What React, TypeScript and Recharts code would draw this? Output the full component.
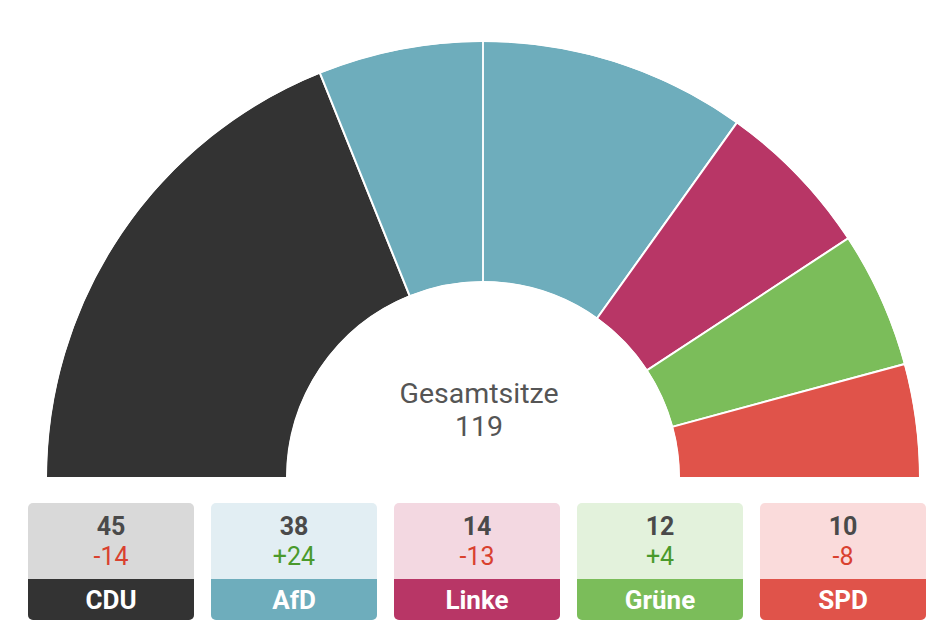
import { Cell, Pie, PieChart } from "recharts";

const parties = ["CDU", "AfD", "Linke", "Grüne", "SPD"];
const seats = [45, 38, 14, 12, 10];
const changes = ["-14", "+24", "-13", "+4", "-8"];
const colors = ["#333333", "#6eadbc", "#b83666", "#7bbd5a", "#e0534a"];
const lightColors = ["#d9d9d9", "#e2eef3", "#f3d8e1", "#e3f2dc", "#fadbdb"];

const total = seats.reduce((a, b) => a + b, 0);
const data = parties.map((name, i) => ({ name, seats: seats[i] }));
const halves = [{ name: "a", seats: total / 2 }, { name: "b", seats: total / 2 }];

const font = "Roboto, 'Noto Sans', sans-serif";

export default function App() {
  return (
    <div style={{ position: "absolute", left: 0, top: 0, width: 951, height: 634, background: "#fff", fontFamily: font }}>
      <PieChart width={951} height={500} margin={{ top: 0, right: 0, bottom: 0, left: 0 }}>
        <Pie
          data={data}
          dataKey="seats"
          nameKey="name"
          cx={483}
          cy={478}
          startAngle={180}
          endAngle={0}
          innerRadius={196}
          outerRadius={437}
          stroke="#fff"
          strokeWidth={2}
          isAnimationActive={false}
        >
          {data.map((d, i) => (
            <Cell key={d.name} fill={colors[i]} />
          ))}
        </Pie>
        {/* majority line */}
        <Pie
          data={halves}
          dataKey="seats"
          cx={483}
          cy={478}
          startAngle={180}
          endAngle={0}
          innerRadius={196}
          outerRadius={437}
          fill="none"
          stroke="#fff"
          strokeWidth={1.5}
          isAnimationActive={false}
        />
        <text x={479} y={403} textAnchor="middle" fontSize={28.5} fill="#555" fontFamily={font}>
          Gesamtsitze
        </text>
        <text x={479} y={436} textAnchor="middle" fontSize={28.5} fill="#555" fontFamily={font}>
          {total}
        </text>
      </PieChart>
      <div style={{ position: "absolute", left: 28, top: 503, display: "flex", gap: 17 }}>
        {parties.map((p, i) => (
          <div
            key={p}
            style={{
              width: 166,
              height: 117,
              borderRadius: 5,
              overflow: "hidden",
              background: lightColors[i],
              display: "flex",
              flexDirection: "column",
              alignItems: "center",
            }}
          >
            <div style={{ height: 76, paddingTop: 2, boxSizing: "border-box", display: "flex", flexDirection: "column", alignItems: "center", justifyContent: "center" }}>
              <div style={{ fontSize: 25, fontWeight: 700, color: "#4a4a4a", lineHeight: "30px" }}>{seats[i]}</div>
              <div style={{ fontSize: 25, color: changes[i].startsWith("+") ? "#4a9a2c" : "#d9412f", lineHeight: "30px" }}>
                {changes[i]}
              </div>
            </div>
            <div
              style={{
                width: "100%",
                flex: 1,
                background: colors[i],
                color: "#fff",
                fontWeight: 700,
                fontSize: 26,
                display: "flex",
                alignItems: "center",
                justifyContent: "center",
              }}
            >
              {p}
            </div>
          </div>
        ))}
      </div>
    </div>
  );
}
